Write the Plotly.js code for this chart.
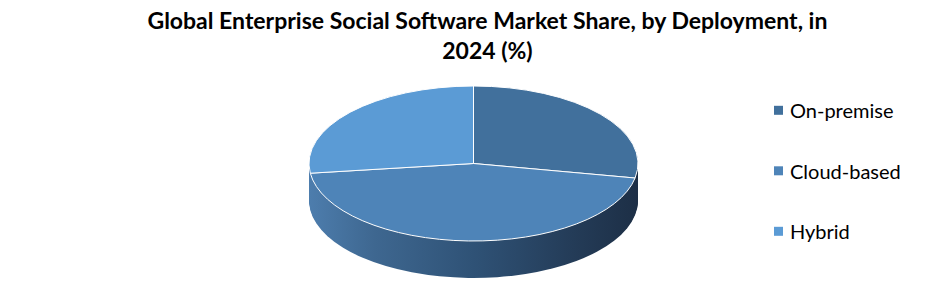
<!DOCTYPE html>
<html>
<head>
<meta charset="utf-8">
<script src="https://cdn.plot.ly/plotly-3.0.1.min.js"></script>
<style>
html,body{margin:0;padding:0;background:#ffffff;}
#chart{width:946px;height:282px;}
</style>
</head>
<body>
<div id="chart"></div>
<script>
// ---- data ----
const labels = ['On-premise', 'Cloud-based', 'Hybrid'];
const shares = [28, 45, 27];
const topColors = ['#41709c', '#4e84b8', '#5b9bd5'];
const titleText = 'Global Enterprise Social Software Market Share, by Deployment, in<br>2024 (%)';

// ---- 3D look parameters (pixels) ----
const CX = 473.5, CY = 163.5;   // centre of the top ellipse
const RX = 164.5, RY = 77.5;    // semi axes of the top ellipse
const DEPTH = 37;               // thickness of the disc
const LEGEND_STEP = 60.5;       // vertical distance between legend entries

const traces = [];
for (let k = DEPTH; k >= 1; k--) {
  traces.push({
    type: 'pie', labels: labels, values: shares,
    sort: false, direction: 'clockwise', rotation: 0,
    marker: {colors: ['#2f5276', '#2f5276', '#2f5276'], line: {width: 0}},
    textinfo: 'none', hoverinfo: 'skip', showlegend: false,
    domain: {x: [0, 1], y: [0, 1]}
  });
}
traces.push({
  type: 'pie', labels: labels, values: shares,
  sort: false, direction: 'clockwise', rotation: 0,
  marker: {colors: topColors, line: {color: '#ffffff', width: 1}},
  textinfo: 'none', hoverinfo: 'label+percent', showlegend: true,
  domain: {x: [0, 1], y: [0, 1]}
});

const layout = {
  width: 946, height: 282,
  margin: {l: 0, r: 0, t: 0, b: 0},
  paper_bgcolor: '#ffffff',
  font: {family: 'Lato, "Open Sans", sans-serif', color: '#000000'},
  title: {
    text: titleText,
    x: 0.5153, xanchor: 'center', xref: 'container',
    y: 0.898, yanchor: 'top', yref: 'container',
    font: {family: 'Lato, "Open Sans", sans-serif', size: 23, weight: 'bold', color: '#000000'}
  },
  showlegend: true,
  legend: {
    x: 0.7928, xanchor: 'left', y: 0.678, yanchor: 'top',
    font: {family: 'Lato, "Open Sans", sans-serif', size: 20, color: '#000000'},
    bgcolor: 'rgba(0,0,0,0)', borderwidth: 0
  }
};

Plotly.newPlot('chart', traces, layout, {staticPlot: true}).then(function (gd) {
  const ns = 'http://www.w3.org/2000/svg';
  const groups = gd.querySelectorAll('.pielayer > g.trace');
  if (!groups.length) return;
  const topG = groups[groups.length - 1];
  const bb = topG.getBBox();
  const r = bb.width / 2;
  const pcx = bb.x + bb.width / 2;
  const pcy = bb.y + bb.height / 2;
  const sx = RX / r, sy = RY / r;

  // gradient for the side wall
  const svg = gd.querySelector('svg.main-svg');
  let defs = svg.querySelector('defs');
  if (!defs) { defs = document.createElementNS(ns, 'defs'); svg.insertBefore(defs, svg.firstChild); }
  const grad = document.createElementNS(ns, 'linearGradient');
  grad.setAttribute('id', 'sideGrad');
  grad.setAttribute('gradientUnits', 'userSpaceOnUse');
  grad.setAttribute('x1', pcx - r); grad.setAttribute('x2', pcx + r);
  grad.setAttribute('y1', 0); grad.setAttribute('y2', 0);
  [[0, '#4d7dad'], [0.2, '#3e6790'], [0.5, '#2f5276'], [0.8, '#243c58'], [1, '#1d2f46']].forEach(function (s) {
    const st = document.createElementNS(ns, 'stop');
    st.setAttribute('offset', s[0]);
    st.setAttribute('stop-color', s[1]);
    grad.appendChild(st);
  });
  defs.appendChild(grad);

  groups.forEach(function (g, i) {
    const k = (i < groups.length - 1) ? (DEPTH - i) : 0;
    g.setAttribute('transform',
      'translate(' + (CX - pcx * sx) + ',' + (CY + k - pcy * sy) + ') scale(' + sx + ',' + sy + ')');
    g.querySelectorAll('path').forEach(function (p) {
      p.setAttribute('vector-effect', 'non-scaling-stroke');
      if (k > 0) { p.style.fill = 'url(#sideGrad)'; p.style.stroke = 'none'; }
    });
  });

  // legend: small squares, wider spacing between entries
  gd.querySelectorAll('.legend path.legendpie').forEach(function (p) {
    p.setAttribute('d', 'M4.5,4.5H-4.5V-4.5H4.5Z');
    p.setAttribute('transform', 'translate(28.5,0)');
    p.style.strokeWidth = '0';
  });
  gd.querySelectorAll('.legend .scrollbox, .legend').forEach(function (el) {
    el.removeAttribute('clip-path');
  });
  const items = gd.querySelectorAll('.legend g.traces');
  let y0 = null;
  items.forEach(function (it, i) {
    const m = /translate\(\s*([-\d.e]+)[ ,]+([-\d.e]+)\s*\)/.exec(it.getAttribute('transform') || '');
    if (!m) return;
    if (i === 0) { y0 = parseFloat(m[2]); }
    it.setAttribute('transform', 'translate(' + parseFloat(m[1]) + ',' + (y0 + i * LEGEND_STEP) + ')');
  });
});
</script>
</body>
</html>
